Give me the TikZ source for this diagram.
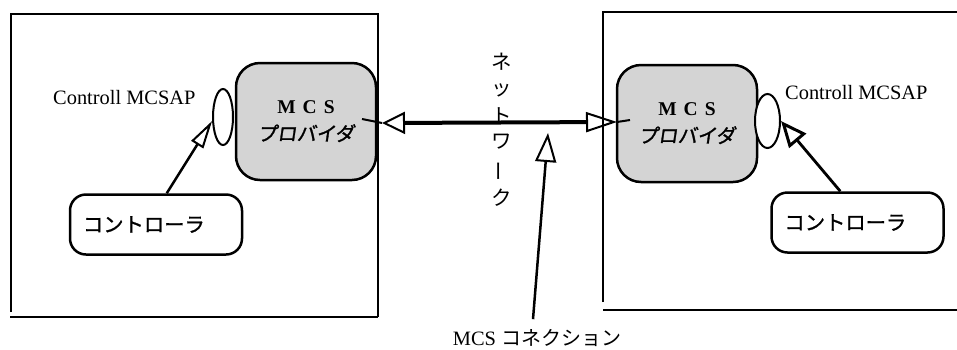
\documentclass[tikz,border=0pt]{standalone}
\usepackage{fontspec}
\setmainfont{Liberation Serif}
\newfontfamily\jp{Noto Sans CJK JP}
\newfontfamily\jpb[FakeBold=1.5,FakeSlant=0.15]{Noto Sans CJK JP}
\newfontfamily\jpc[FakeBold=1.2]{Noto Sans CJK JP}
\usetikzlibrary{arrows.meta,shapes.geometric,calc}
\begin{document}
\begin{tikzpicture}[x=1pt,y=-1pt,
  frame/.style={line width=2pt},
  prov/.style={draw, line width=2.5pt, fill=black!17, rounded corners=24pt,
    minimum width=140pt, minimum height=117pt, inner sep=0pt, align=center,
    font=\fontsize{19.5}{27}\selectfont},
  sap/.style={draw, ellipse, line width=2pt, fill=white, inner sep=0pt},
  ctrl/.style={draw, line width=2.5pt, rounded corners=16pt, minimum height=60pt,
    inner xsep=13pt, text width=146pt, align=left,
    font=\jpc\fontsize{20.3}{24}\selectfont},
  lbl/.style={font=\fontsize{20.4}{24}\selectfont, inner sep=0pt},
  jlbl/.style={font=\jp\fontsize{20.5}{24}\selectfont, inner sep=0pt},
  arrL/.style={line width=2.5pt, -{Triangle[open, length=28pt, width=14pt, line width=2pt]}},
  arrR/.style={line width=2.8pt, -{Triangle[open, length=26pt, width=22pt, line width=3pt]}},
  arrC/.style={line width=2.5pt, -{Triangle[open, length=29pt, width=21pt, line width=2pt]}},
  net/.style={line width=4pt,
    {Triangle[open, length=23pt, width=22pt, line width=2pt]}-{Triangle[open, length=31pt, width=20pt, line width=2pt]}},
]
\useasboundingbox (0,0) rectangle (957,349);

% frames
\draw[frame] (11,312) -- (11,14) -- (378,14) -- (378,317);
\draw[frame] (10,317) -- (378,317);
\draw[frame] (603,302) -- (603,12) -- (957,12);
\draw[frame] (603,310) -- (957,310);

% providers
\node[prov] (lprov) at (306,121.5) {{\bfseries M\hspace{7pt}C\hspace{7pt}S}\\{\jpb プロバイダ}};
\node[prov] (rprov) at (687,123.5) {{\bfseries M\hspace{7pt}C\hspace{7pt}S}\\{\jpb プロバイダ}};

% SAPs
\node[sap, minimum width=20pt, minimum height=56pt] (lsap) at (223,117) {};
\node[sap, minimum width=25pt, minimum height=54pt] (rsap) at (767.5,121) {};
\node[lbl, anchor=west] (lsapl) at (53,98) {Controll MCSAP};
\node[lbl, anchor=west] (rsapl) at (785,93) {Controll MCSAP};

% controllers
\node[ctrl] (lctrl) at (156,224.5) {コントローラ};
\node[ctrl] (rctrl) at (857.5,222.5) {コントローラ};

\draw[arrL] ($(lctrl.north west)+(98,0)$) -- (lsap.200);
\draw[arrR] ($(rctrl.north west)+(70,0)$) -- (rsap.east);

% network
\coordinate (nL) at (382,123);
\coordinate (nR) at (617,122);
\coordinate (lin) at (362,119);
\coordinate (rin) at (630,120);
\draw[line width=2pt] (lin) -- (nL);
\draw[line width=2pt] (nR) -- (rin);
\draw[net] (nL) -- (nR);

\node[jlbl] (n1) at (502,62) {ネ};
\node[jlbl] (n2) at (502,90) {ッ};
\node[jlbl] (n3) at (502,116) {ト};
\node[jlbl] (n4) at (502,142) {ワ};
\node[jlbl, rotate=90] (n5) at (502,171) {ー};
\node[jlbl] (n6) at (502,198) {ク};

% MCS connection
\node[lbl] (conn) at (537,338) {MCS {\jp\fontsize{20}{24}\selectfont コネクション}};
\coordinate (ctip) at (548,133);
\draw[arrC] ($(conn.north)+(-4,-10)$) -- (ctip);
\end{tikzpicture}
\end{document}
